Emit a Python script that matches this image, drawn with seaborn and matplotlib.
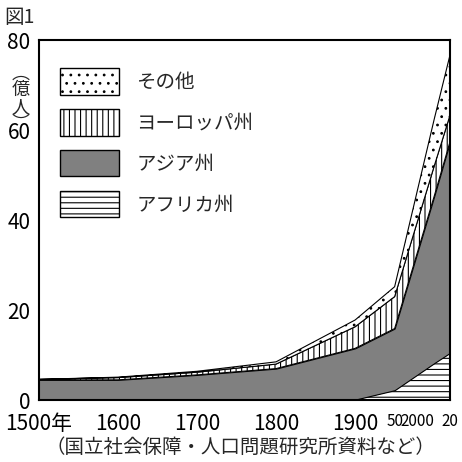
import numpy as np
import pandas as pd
import matplotlib
matplotlib.use("Agg")
import matplotlib.pyplot as plt
import seaborn as sns
from matplotlib.patches import Patch

years = [1500, 1600, 1700, 1800, 1900, 1950, 2000, 2020]
tick_labels = ["1500年", "1600", "1700", "1800", "1900", "50", "2000", "20"]
africa = [0.0, 0.0, 0.0, 0.1, 0.1, 2.2, 8.2, 10.5]
asia = [4.5, 4.5, 5.6, 6.9, 11.4, 13.7, 37.1, 46.9]
europe = [0.1, 0.5, 0.6, 1.0, 4.8, 7.1, 6.7, 5.9]
others = [0.0, 0.1, 0.2, 0.5, 1.5, 2.2, 10.4, 13.4]

sns.set_theme(style="white")
plt.rcParams["font.family"] = ["Noto Sans CJK JP", "DejaVu Sans"]
plt.rcParams["hatch.linewidth"] = 0.8

fig = plt.figure(figsize=(4.62, 4.62), dpi=100)
ax = fig.add_axes([0.084, 0.134, 0.89, 0.779])

polys = ax.stackplot(years, africa, asia, europe, others,
                     colors=["white", "#808080", "white", "white"],
                     edgecolor="black", linewidth=0.8)
for p, h in zip(polys, ["---", None, "|||", ".."]):
    if h:
        p.set_hatch(h)

ax.set_xlim(1500, 2020)
ax.set_ylim(0, 80)
ax.set_xticks(years)
ax.set_xticklabels(tick_labels)
ax.set_yticks([0, 20, 40, 60, 80])
ax.set_yticks(np.arange(0, 81, 10), minor=True)
for line in ax.xaxis.get_ticklines() + ax.yaxis.get_ticklines() + ax.yaxis.get_ticklines(minor=True):
    line.set_marker("o")
    line.set_markersize(4)
    line.set_color("black")
ax.tick_params(axis="both", labelsize=15, pad=3, colors="black")
ax.tick_params(axis="y", pad=0)
for lbl in ax.get_xticklabels()[5:]:
    lbl.set_fontsize(11)
labels = ax.get_xticklabels()
labels[6].set_horizontalalignment("right")
labels[6].set_x(2000)
for s in ax.spines.values():
    s.set_color("black")
    s.set_linewidth(1.5)

handles = [Patch(facecolor="white", edgecolor="black", hatch=".."),
           Patch(facecolor="white", edgecolor="black", hatch="|||"),
           Patch(facecolor="#808080", edgecolor="black"),
           Patch(facecolor="white", edgecolor="black", hatch="---")]
ax.legend(handles, ["その他", "ヨーロッパ州", "アジア州", "アフリカ州"],
          loc="upper left", frameon=False, fontsize=14, handlelength=3.0,
          handleheight=1.7, labelspacing=0.75, handletextpad=0.9,
          bbox_to_anchor=(0.01, 0.97))

fig.text(0.01, 0.985, "図1", fontsize=14, va="top")
fig.text(0.045, 0.86, "︵\n億\n人\n︶", fontsize=13, ha="center", va="top", linespacing=0.9)
fig.text(0.52, 0.02, "（国立社会保障・人口問題研究所資料など）", fontsize=14, ha="center")

fig.savefig("out.png")
